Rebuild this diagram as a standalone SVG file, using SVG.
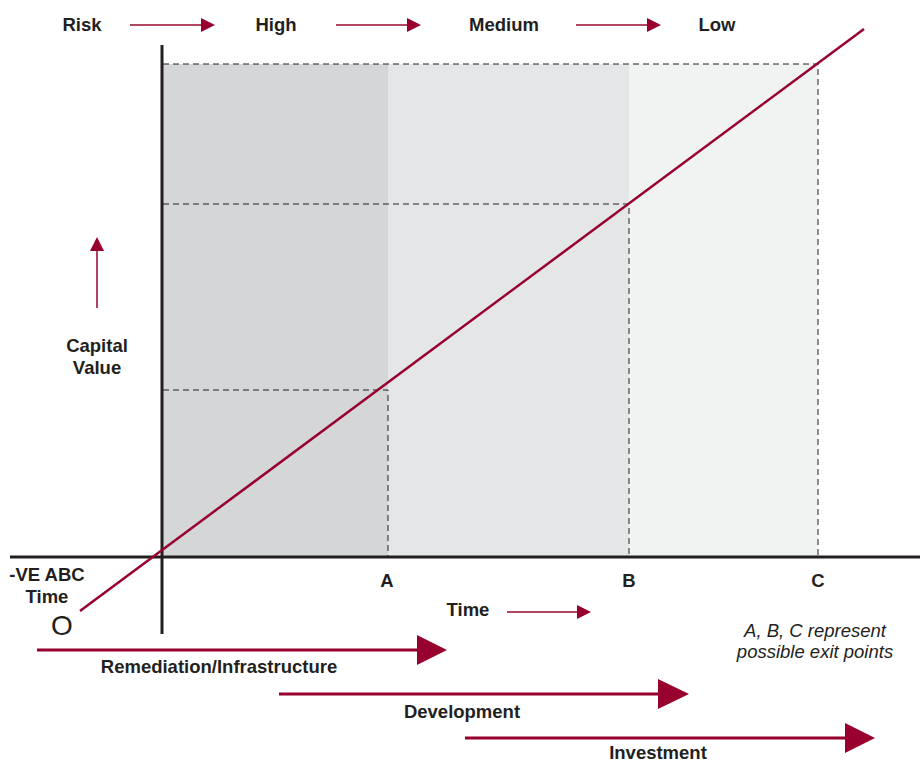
<svg xmlns="http://www.w3.org/2000/svg" width="920" height="762" viewBox="0 0 920 762">
<defs>
<style>
.t{font-family:"Liberation Sans",Arial,sans-serif;font-weight:bold;font-size:18.5px;fill:#231f20;text-anchor:middle}
.i{font-family:"Liberation Sans",Arial,sans-serif;font-style:italic;font-size:18.5px;fill:#231f20;text-anchor:middle}
.dash{stroke:#231f20;stroke-width:1;stroke-dasharray:6,4;fill:none}
.thin{stroke:#b0485f;stroke-width:2;fill:none}
.big{stroke:#98002e;stroke-width:3;fill:none}
.head{fill:#98002e}
</style>
</defs>
<rect width="920" height="762" fill="#fff"/>
<g id="bands">
<rect x="163" y="64" width="225" height="493" fill="#d5d6d8"/>
<rect x="388" y="64" width="241" height="493" fill="#e5e6e8"/>
<rect x="629" y="64" width="189" height="493" fill="#f1f2f2"/>
</g>
<g id="gridlines">
<path class="dash" d="M163 64H818V557M163 204H629V557M163 390H388V557"/>
</g>
<g id="axes">
<line x1="162" y1="45" x2="162" y2="634" stroke="#231f20" stroke-width="3"/>
<line x1="10" y1="557" x2="920" y2="557" stroke="#231f20" stroke-width="3"/>
</g>
<g id="connectors">
<line x1="80" y1="611" x2="864" y2="29" stroke="#98002e" stroke-width="2.5"/>
<line class="thin" x1="130" y1="25" x2="202" y2="25"/><polygon class="head" points="201,18 215,25 201,32"/>
<line class="thin" x1="336" y1="25" x2="408" y2="25"/><polygon class="head" points="407,18 421,25 407,32"/>
<line class="thin" x1="576" y1="25" x2="648" y2="25"/><polygon class="head" points="647,18 661,25 647,32"/>
<line class="thin" x1="507" y1="612" x2="578" y2="612"/><polygon class="head" points="577,605 591,612 577,619"/>
<line x1="97" y1="308" x2="97" y2="248" stroke="#98002e" stroke-width="1.5"/><polygon class="head" points="90,251 97,237 104,251"/>
<line class="big" x1="37" y1="650" x2="420" y2="650"/><polygon class="head" points="417,635 447,650 417,665"/>
<line class="big" x1="279" y1="694" x2="660" y2="694"/><polygon class="head" points="658,679 689,694 658,709"/>
<line class="big" x1="465" y1="738" x2="847" y2="738"/><polygon class="head" points="845,723 875,738 845,753"/>
</g>
<g id="labels">
<text class="t" x="82" y="31">Risk</text>
<text class="t" x="276" y="31">High</text>
<text class="t" x="504" y="31">Medium</text>
<text class="t" x="717" y="31">Low</text>
<text class="t" x="97" y="352">Capital</text>
<text class="t" x="97" y="374">Value</text>
<text class="t" x="47" y="581">-VE ABC</text>
<text class="t" x="47" y="603">Time</text>
<text x="62" y="635" font-family="Liberation Sans,Arial,sans-serif" font-size="28" fill="#231f20" text-anchor="middle">O</text>
<text class="t" x="387" y="587">A</text>
<text class="t" x="629" y="587">B</text>
<text class="t" x="818" y="587">C</text>
<text class="t" x="468" y="616">Time</text>
<text class="i" x="815" y="637">A, B, C represent</text>
<text class="i" x="815" y="658">possible exit points</text>
<text class="t" x="219" y="673">Remediation/Infrastructure</text>
<text class="t" x="462" y="718">Development</text>
<text class="t" x="658" y="759">Investment</text>
</g>
</svg>
